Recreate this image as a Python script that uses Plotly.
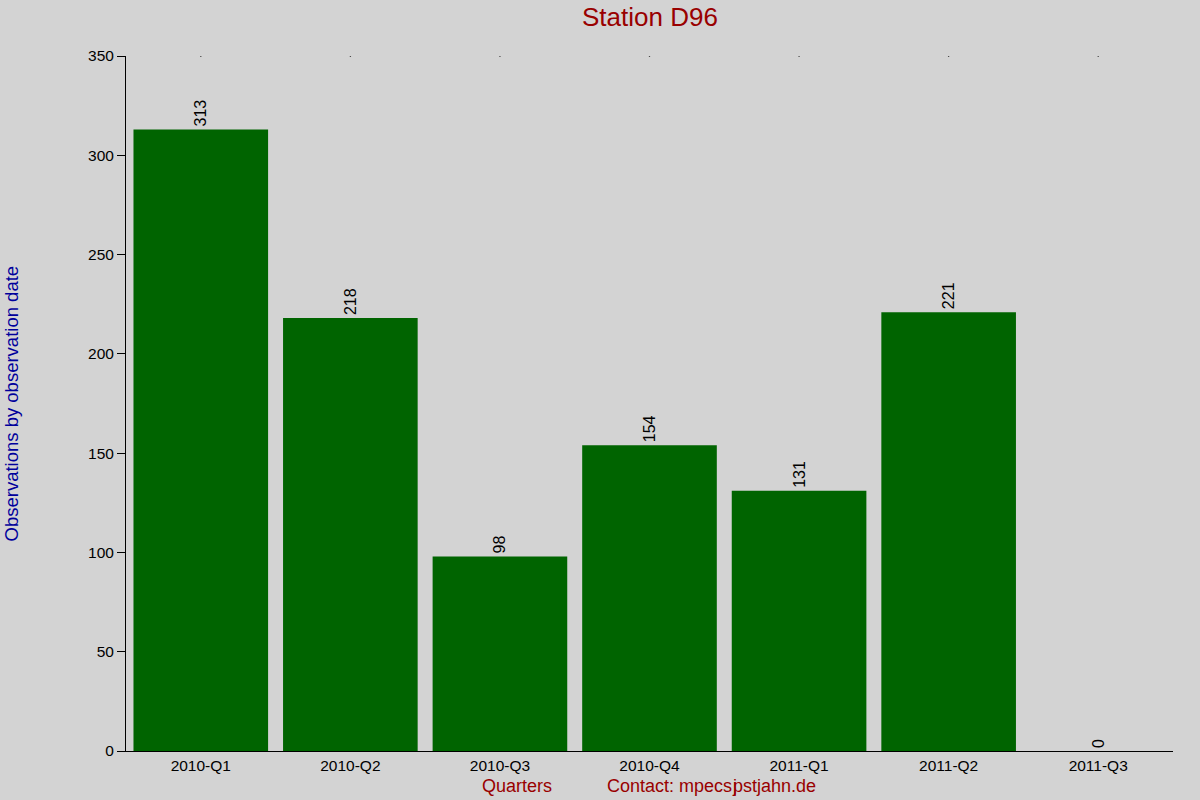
import plotly.graph_objects as go

categories = ["2010-Q1", "2010-Q2", "2010-Q3", "2010-Q4", "2011-Q1", "2011-Q2", "2011-Q3"]
observations = [313, 218, 98, 154, 131, 221, 0]
y_ticks = [0, 50, 100, 150, 200, 250, 300, 350]

FONT = "Liberation Sans, Arial, sans-serif"
L, R = 126, 1173

def px(x):
    return (x - L) / (R - L)

fig = go.Figure()
fig.add_trace(go.Bar(
    x=categories, y=observations,
    marker=dict(color="#006400", line=dict(width=0)),
    text=[str(v) + "\u00a0" for v in observations],
    textposition="outside", textangle=-90,
    textfont=dict(family=FONT, size=16, color="#000000"),
    cliponaxis=False,
))
fig.add_trace(go.Scatter(
    x=categories, y=[y_ticks[-1]] * len(categories), mode="markers",
    marker=dict(size=1.5, color="#000000"), hoverinfo="skip",
))

red = "#990000"
common = dict(xref="paper", yref="paper", showarrow=False, borderpad=0, borderwidth=0)
fig.update_layout(
    width=1200, height=800,
    paper_bgcolor="#D3D3D3", plot_bgcolor="#D3D3D3",
    margin=dict(l=L, r=1200 - R, t=56, b=49),
    showlegend=False, bargap=0.1,
    font=dict(family=FONT, size=15.5, color="#000000"),
    xaxis=dict(showgrid=False, zeroline=False, showline=True, linecolor="#000000",
               linewidth=1, ticks="", tickfont=dict(size=15.5), ticklabelstandoff=0),
    yaxis=dict(range=[0, 350], tickvals=y_ticks, showgrid=False, zeroline=False,
               showline=True, linecolor="#000000", linewidth=1, ticks="outside",
               ticklen=8, tickcolor="#000000", tickfont=dict(size=15.5)),
    annotations=[
        dict(text="Station D96", x=0.5, y=1, yshift=39,
             xanchor="center", yanchor="middle", font=dict(size=26, color=red), **common),
        dict(text="Observations by observation date",
             x=0, xshift=-115, y=0.5, textangle=-90, xanchor="center", yanchor="middle",
             font=dict(size=18.5, color="#00009C"), **common),
        dict(text="Quarters", x=px(517), y=0, yshift=-35, xanchor="center", yanchor="middle",
             font=dict(size=18, color=red), **common),
        dict(text="Contact: mpecs", x=px(732), y=0, yshift=-35, xanchor="right",
             yanchor="middle", font=dict(size=18, color=red), **common),
        dict(text="pstjahn.de", x=px(733), y=0, yshift=-35, xanchor="left",
             yanchor="middle", font=dict(size=18, color=red), **common),
        dict(text="j", x=px(732), y=0, yshift=-35, xanchor="left",
             yanchor="middle", font=dict(size=18, color=red), **common),
    ],
)

fig.write_html("out.html", config={"displayModeBar": False},
               post_script="document.body.style.margin='0';document.body.style.background='#D3D3D3';")
